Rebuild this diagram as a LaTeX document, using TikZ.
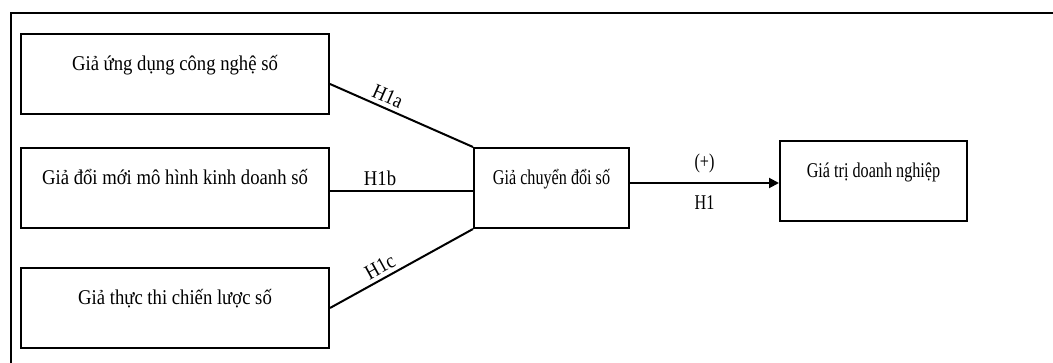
\documentclass[tikz,border=0pt]{standalone}
\usepackage{fontspec}
\setmainfont{Liberation Serif}
\newfontfamily\boxfont{Liberation Serif}[FakeStretch=0.89]
\newfontfamily\tightfont{Liberation Serif}[FakeStretch=0.77]
\usetikzlibrary{arrows.meta,calc}

\begin{document}
\begin{tikzpicture}[x=1pt,y=-1pt,
  construct/.style={draw, line width=2pt, inner sep=0pt,
    text height=37pt, text depth=43pt, minimum height=80pt},
  wide/.style={font=\boxfont\fontsize{21}{25}\selectfont},
  tight/.style={font=\tightfont\fontsize{21}{25}\selectfont},
  link/.style={line width=2pt},
  hyp/.style={wide, sloped, above, inner sep=4pt}
]
\useasboundingbox (0,0) rectangle (1053,363);

% open frame: top and left edges only
\draw[line width=2pt] (1053,13) -- (11,13) -- (11,363);

% antecedent constructs
\node[construct, wide, minimum width=308pt] (A) at (175,74) {Giả ứng dụng công nghệ số};
\node[construct, wide, minimum width=308pt] (B) at (175,188) {Giả đổi mới mô hình kinh doanh số};
\node[construct, wide, minimum width=308pt] (C) at (175,308) {Giả thực thi chiến lược số};

% mediator and outcome
\node[construct, tight, minimum width=155pt] (M) at (551.5,188) {Giả chuyển đổi số};
\node[construct, tight, minimum width=187pt] (V) at (873.5,181) {Giá trị doanh nghiệp};

% paths into the mediator
\draw[link] ([yshift=-10pt]A.east) -- node[hyp, pos=0.37] {H1a} (M.north west);
\draw[link] ([yshift=-3pt]B.east) -- node[wide, above, inner sep=4pt, pos=0.35] {H1b} ([yshift=-3pt]M.west);
\draw[link] (C.east) -- node[hyp, pos=0.39] {H1c} (M.south west);

% main effect
\draw[link, -{Triangle[length=10pt,width=10pt]}] ([yshift=5pt]M.east) -- coordinate (mid) ([yshift=5pt]M.east -| V.west);
\node[tight, yshift=20pt] (plus) at (mid) {(+)};
\node[tight, yshift=-20pt] (h1) at (mid) {H1};
\end{tikzpicture}
\end{document}
